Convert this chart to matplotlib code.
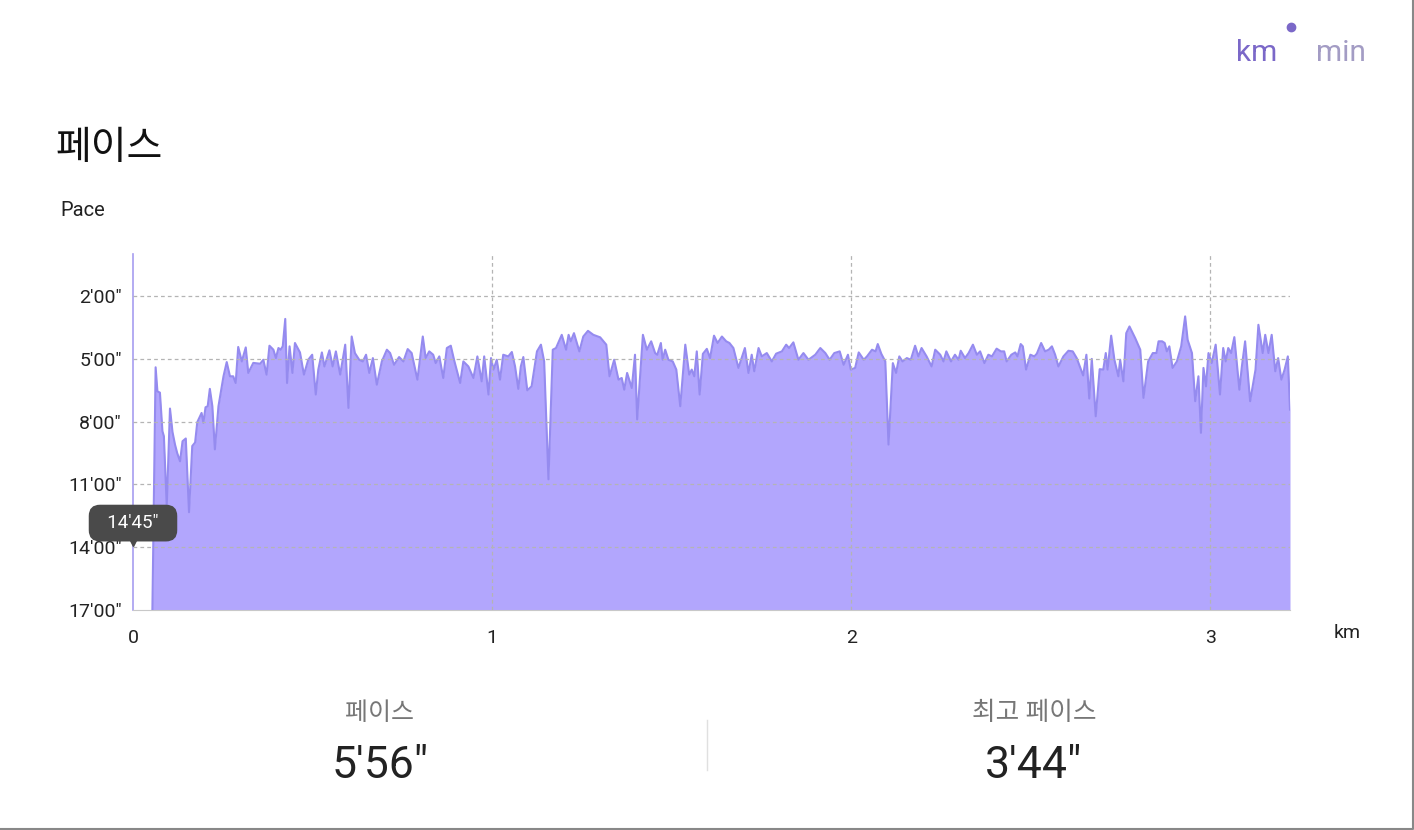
import matplotlib.pyplot as plt
from matplotlib.lines import Line2D

plt.rcParams['font.family'] = ['Roboto', 'Noto Sans CJK KR', 'DejaVu Sans']

# 거리(km) / 페이스(분) - 그림에서 읽은 값
dist_km = [
    0.054, 0.063, 0.068, 0.075, 0.082, 0.086, 0.094, 0.103, 0.110, 0.117,
    0.123, 0.131, 0.138, 0.147, 0.156, 0.165, 0.173, 0.179, 0.191, 0.196,
    0.202, 0.208, 0.214, 0.221, 0.228, 0.238, 0.252, 0.261, 0.270, 0.279,
    0.286, 0.293, 0.303, 0.314, 0.321, 0.335, 0.354, 0.363, 0.372, 0.380,
    0.391, 0.398, 0.405, 0.411, 0.417, 0.424, 0.429, 0.436, 0.444, 0.451,
    0.465, 0.476, 0.488, 0.499, 0.509, 0.516, 0.526, 0.533, 0.547, 0.556,
    0.565, 0.577, 0.591, 0.600, 0.609, 0.618, 0.630, 0.640, 0.649, 0.658,
    0.668, 0.679, 0.693, 0.707, 0.716, 0.727, 0.741, 0.753, 0.765, 0.776,
    0.792, 0.807, 0.815, 0.825, 0.836, 0.843, 0.853, 0.864, 0.874, 0.885,
    0.894, 0.911, 0.920, 0.934, 0.948, 0.959, 0.971, 0.978, 0.990, 0.997,
    1.004, 1.013, 1.022, 1.031, 1.045, 1.055, 1.064, 1.073, 1.080, 1.087,
    1.098, 1.110, 1.125, 1.136, 1.145, 1.157, 1.169, 1.178, 1.194, 1.206,
    1.213, 1.219, 1.228, 1.243, 1.254, 1.267, 1.282, 1.301, 1.318, 1.327,
    1.340, 1.352, 1.361, 1.368, 1.376, 1.389, 1.398, 1.404, 1.420, 1.431,
    1.443, 1.454, 1.460, 1.470, 1.475, 1.482, 1.491, 1.503, 1.513, 1.524,
    1.538, 1.549, 1.556, 1.563, 1.570, 1.578, 1.587, 1.598, 1.607, 1.618,
    1.628, 1.640, 1.652, 1.661, 1.672, 1.686, 1.704, 1.714, 1.723, 1.730,
    1.742, 1.751, 1.765, 1.779, 1.791, 1.807, 1.819, 1.827, 1.839, 1.853,
    1.867, 1.881, 1.900, 1.914, 1.928, 1.940, 1.953, 1.968, 1.979, 1.991,
    1.999, 2.011, 2.021, 2.035, 2.044, 2.058, 2.068, 2.074, 2.084, 2.095,
    2.104, 2.116, 2.125, 2.134, 2.143, 2.155, 2.166, 2.178, 2.187, 2.196,
    2.210, 2.224, 2.234, 2.248, 2.257, 2.265, 2.278, 2.289, 2.299, 2.305,
    2.317, 2.327, 2.339, 2.350, 2.359, 2.371, 2.382, 2.392, 2.405, 2.417,
    2.426, 2.433, 2.446, 2.457, 2.463, 2.472, 2.478, 2.487, 2.499, 2.510,
    2.517, 2.529, 2.540, 2.550, 2.559, 2.568, 2.577, 2.591, 2.605, 2.617,
    2.628, 2.646, 2.655, 2.663, 2.670, 2.681, 2.692, 2.702, 2.709, 2.714,
    2.724, 2.733, 2.744, 2.749, 2.758, 2.766, 2.775, 2.791, 2.805, 2.814,
    2.827, 2.840, 2.850, 2.856, 2.866, 2.873, 2.879, 2.886, 2.895, 2.907,
    2.919, 2.930, 2.937, 2.949, 2.958, 2.967, 2.974, 2.981, 2.988, 2.995,
    3.004, 3.015, 3.027, 3.036, 3.043, 3.050, 3.058, 3.067, 3.081, 3.088,
    3.097, 3.111, 3.126, 3.134, 3.146, 3.153, 3.162, 3.171, 3.181, 3.189,
    3.198, 3.207, 3.216, 3.222,
]
pace_min = [
    17.0, 5.41, 6.56, 6.62, 8.46, 8.70, 12.03, 7.38, 8.50, 9.10,
    9.50, 9.90, 8.94, 8.81, 12.33, 9.17, 9.00, 8.03, 7.59, 8.06,
    7.32, 7.27, 6.44, 7.27, 9.33, 7.27, 5.84, 5.16, 5.84, 5.84,
    6.16, 4.44, 5.13, 4.46, 5.68, 5.20, 5.24, 5.05, 5.76, 4.38,
    4.57, 4.97, 4.49, 4.57, 4.41, 3.10, 6.16, 4.41, 5.68, 4.25,
    4.70, 5.76, 5.05, 4.81, 6.71, 5.52, 4.70, 5.37, 4.60, 5.37,
    4.65, 5.76, 4.33, 7.35, 3.94, 4.73, 5.05, 5.13, 4.81, 5.68,
    4.97, 6.24, 5.13, 4.57, 4.73, 5.29, 4.92, 5.13, 4.54, 4.73,
    6.00, 3.94, 4.97, 4.65, 4.81, 5.21, 4.89, 5.92, 4.49, 4.38,
    5.05, 6.16, 5.13, 5.37, 5.92, 4.89, 6.08, 4.89, 6.71, 4.97,
    5.52, 5.05, 6.00, 4.81, 4.89, 4.68, 5.37, 6.44, 5.37, 4.92,
    6.51, 6.32, 4.65, 4.33, 5.13, 10.76, 4.57, 4.49, 3.86, 4.57,
    3.86, 4.17, 3.78, 4.65, 3.94, 3.67, 3.86, 3.98, 4.33, 5.84,
    5.05, 6.00, 5.92, 6.48, 5.68, 6.40, 4.81, 7.90, 3.86, 4.57,
    4.17, 4.73, 4.81, 4.25, 5.05, 4.57, 5.05, 5.13, 5.52, 7.27,
    4.33, 5.76, 5.52, 5.84, 4.65, 6.71, 4.77, 4.53, 4.97, 3.90,
    4.25, 3.94, 4.17, 4.25, 4.49, 5.44, 4.49, 5.68, 4.81, 5.60,
    4.49, 4.89, 4.73, 5.13, 4.76, 4.65, 4.33, 4.49, 4.22, 5.05,
    4.73, 5.05, 4.81, 4.49, 4.73, 5.05, 4.73, 4.65, 5.29, 4.81,
    5.52, 5.44, 4.70, 5.05, 4.89, 4.57, 4.65, 4.30, 4.77, 5.13,
    9.10, 5.21, 5.68, 4.89, 5.13, 4.97, 5.05, 4.38, 4.89, 4.49,
    4.89, 5.37, 4.57, 4.81, 5.13, 4.65, 5.13, 4.81, 5.05, 4.62,
    4.97, 4.73, 4.33, 4.81, 4.65, 5.21, 4.81, 4.89, 4.52, 4.65,
    4.65, 5.13, 4.81, 4.70, 4.89, 4.30, 4.41, 5.52, 4.81, 4.89,
    4.76, 4.25, 4.65, 4.57, 4.41, 4.81, 5.37, 4.89, 4.62, 4.65,
    4.97, 5.80, 4.81, 6.90, 5.01, 7.75, 5.50, 5.52, 4.73, 5.52,
    3.90, 5.05, 5.84, 5.05, 6.08, 3.78, 3.46, 4.02, 4.57, 6.87,
    5.13, 4.73, 4.73, 4.17, 4.17, 4.25, 4.65, 4.41, 5.44, 5.13,
    4.41, 2.98, 4.10, 4.73, 7.03, 5.84, 8.54, 5.44, 6.32, 4.73,
    5.21, 4.33, 6.71, 4.49, 5.13, 4.49, 4.73, 3.97, 6.48, 5.37,
    4.17, 7.03, 5.52, 3.38, 4.73, 3.86, 4.73, 3.86, 5.60, 4.97,
    6.00, 5.52, 4.89, 7.43,
]

y_ticks = [2, 5, 8, 11, 14, 17]
y_labels = ["2'00\"", "5'00\"", "8'00\"", "11'00\"", "14'00\"", "17'00\""]
x_ticks = [0, 1, 2, 3]
x_labels = ['0', '1', '2', '3']

avg_pace = "5'56\""
best_pace = "3'44\""
cursor_label = "14'45\""

fill_color = '#b2a6fd'
line_color = '#958bef'
grid_color = '#b4b4b4'

fig = plt.figure(figsize=(14.14, 8.30), dpi=100)
ax = fig.add_axes([133 / 1414, 1 - 610 / 830, (1290 - 133) / 1414, (610 - 254) / 830])

ax.fill_between(dist_km, pace_min, 17, color=fill_color, lw=0, zorder=2)
ax.plot(dist_km, pace_min, color=line_color, lw=1.5, zorder=3, solid_joinstyle='round')

ax.set_xlim(0, 3.222)
ax.set_ylim(17, 0)
ax.set_yticks(y_ticks)
ax.set_yticklabels(y_labels)
ax.set_xticks(x_ticks)
ax.set_xticklabels(x_labels)
ax.tick_params(length=0, labelsize=14, colors='#222222')
ax.tick_params(axis='y', pad=8)
ax.tick_params(axis='x', pad=14)

# 점선 그리드
for yv in y_ticks[:-1]:
    ax.axhline(yv, color=grid_color, lw=0.9, ls=(0, (3, 2.5)), zorder=4)
for xv in x_ticks[1:]:
    ax.axvline(xv, color=grid_color, lw=0.9, ls=(0, (3, 2.5)), zorder=4)

for side in ['top', 'right']:
    ax.spines[side].set_visible(False)
ax.spines['left'].set_color('#a79df0')
ax.spines['left'].set_linewidth(1.2)
ax.spines['bottom'].set_color('#c8c8c8')
ax.spines['bottom'].set_linewidth(0.8)

# 툴팁
ax.plot([0], [13.65], marker='v', ms=8, color='#4a4a4a', clip_on=False, zorder=6)
ax.text(0, 12.85, '  ' + cursor_label + '  ', ha='center', va='center', fontsize=13.5, color='white',
        zorder=7, bbox=dict(boxstyle='round,pad=0.5,rounding_size=0.6', fc='#4a4a4a', ec='none'))

# 텍스트
fig.text(55 / 1414, 1 - 148 / 830, '페이스', fontsize=28, color='#111111', va='center', ha='left')
fig.text(60 / 1414, 1 - 210 / 830, 'Pace', fontsize=14.5, color='#222222', va='center', ha='left')
fig.text(1347 / 1414, 1 - 633 / 830, 'km', fontsize=14, color='#222222', va='center', ha='center')

fig.text(1257 / 1414, 1 - 53 / 830, 'km', fontsize=21.5, color='#7b68c8', va='center', ha='center')
fig.text(1341 / 1414, 1 - 53 / 830, 'min', fontsize=21.5, color='#a39cc4', va='center', ha='center')
fig.add_artist(Line2D([1291 / 1414], [1 - 27 / 830], marker='o', ms=6, color='#7b68c8',
                      transform=fig.transFigure))

fig.text(380 / 1414, 1 - 713 / 830, '페이스', fontsize=18, color='#777777', va='center', ha='center')
fig.text(380 / 1414, 1 - 766 / 830, avg_pace, fontsize=32, color='#222222', va='center', ha='center')
fig.text(1034 / 1414, 1 - 713 / 830, '최고 페이스', fontsize=18.5, color='#777777', va='center', ha='center')
fig.text(1034 / 1414, 1 - 766 / 830, best_pace, fontsize=32, color='#222222', va='center', ha='center')
fig.add_artist(Line2D([707 / 1414, 707 / 1414], [1 - 720 / 830, 1 - 770 / 830], color='#e0e0e0',
                      lw=1, transform=fig.transFigure))

# 테두리
fig.add_artist(Line2D([0, 1412.5 / 1414, 1412.5 / 1414], [1.5 / 830, 1.5 / 830, 1], color='#888888',
                      lw=1.5, transform=fig.transFigure))

fig.savefig('out.png', dpi=100, facecolor='white')
